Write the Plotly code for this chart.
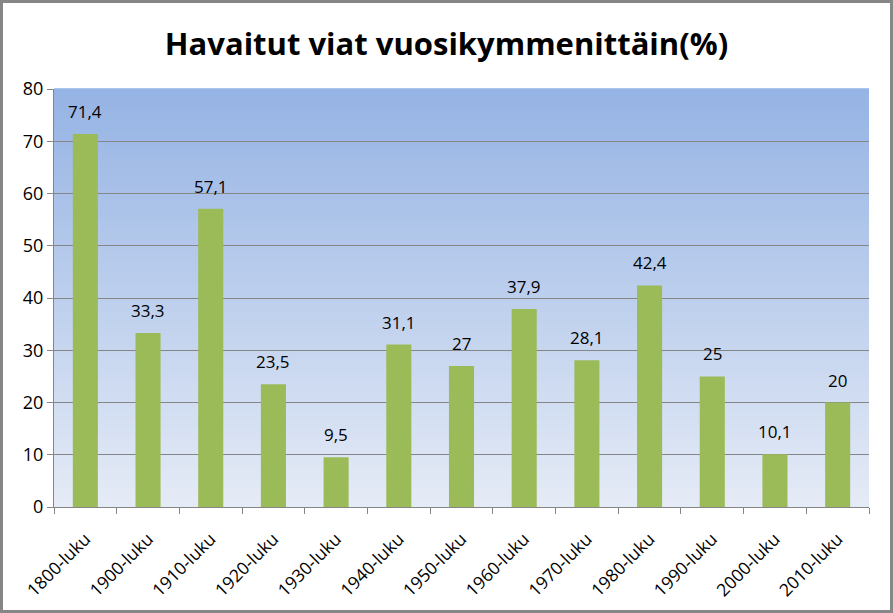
import plotly.graph_objects as go

categories = ["1800-luku", "1900-luku", "1910-luku", "1920-luku", "1930-luku", "1940-luku",
              "1950-luku", "1960-luku", "1970-luku", "1980-luku", "1990-luku", "2000-luku", "2010-luku"]
values = [71.4, 33.3, 57.1, 23.5, 9.5, 31.1, 27, 37.9, 28.1, 42.4, 25, 10.1, 20]
y_ticks = [0, 10, 20, 30, 40, 50, 60, 70, 80]
title_text = "Havaitut viat vuosikymmenittäin(%)"

W, H = 893, 613
ML, MR, MT, MB = 54, 24, 89, 106
PW, PH = W - ML - MR, H - MT - MB
FONT = "Open Sans, Noto Sans, sans-serif"

labels = [(str(v) if v != int(v) else str(int(v))).replace(".", ",") for v in values]

fig = go.Figure()
fig.add_trace(go.Bar(
    x=categories, y=values, marker=dict(color="#9BBB59", line=dict(width=0)),
    hoverinfo="x+y",
))

annotations = [dict(x=c, y=v, xref="x", yref="y", text=t, showarrow=False,
                    yanchor="bottom", yshift=9,
                    font=dict(family=FONT, size=17, color="#000000"))
               for c, v, t in zip(categories, values, labels)]

# gradient background of plot area
shapes = []
N = 100
top = (149, 179, 228)
bot = (229, 235, 246)
for i in range(N):
    t = i / (N - 1)
    c = tuple(round(bot[k] + (top[k] - bot[k]) * t) for k in range(3))
    shapes.append(dict(type="rect", xref="paper", yref="paper", x0=0, x1=1,
                       y0=i / N, y1=(i + 1) / N + 0.002, fillcolor="rgb(%d,%d,%d)" % c,
                       line=dict(width=0), layer="below"))
# outer border
shapes.append(dict(type="rect", xref="paper", yref="paper",
                   x0=(1.5 - ML) / PW, x1=(W - 1.5 - ML) / PW,
                   y0=-(MB - 1.5) / PH, y1=1 + (MT - 1.5) / PH,
                   line=dict(color="#868686", width=3), fillcolor="rgba(0,0,0,0)", layer="above"))

fig.update_layout(
    width=W, height=H,
    margin=dict(l=ML, r=MR, t=MT, b=MB),
    paper_bgcolor="white", plot_bgcolor="rgba(0,0,0,0)",
    bargap=0.6, showlegend=False, shapes=shapes, annotations=annotations,
    title=dict(text="<b>" + title_text + "</b>", x=0.5, xanchor="center", y=1 - 44 / H, yanchor="middle",
               font=dict(family=FONT, size=31, color="#000000")),
    xaxis=dict(type="category", tickangle=-45, tickson="boundaries", ticks="outside", ticklen=6,
               tickcolor="#868686", showline=True, linecolor="#868686", linewidth=1, showgrid=False,
               ticklabelstandoff=14, automargin=False,
               tickfont=dict(family=FONT, size=17.5, color="#000000")),
    yaxis=dict(range=[0, 80], tickvals=y_ticks, ticks="outside", ticklen=6, tickcolor="#868686",
               showline=True, linecolor="#868686", linewidth=1, showgrid=True, gridcolor="#868686",
               gridwidth=1, zeroline=False, automargin=False,
               tickfont=dict(family=FONT, size=18, color="#000000")),
)

fig.write_html("out.html")
